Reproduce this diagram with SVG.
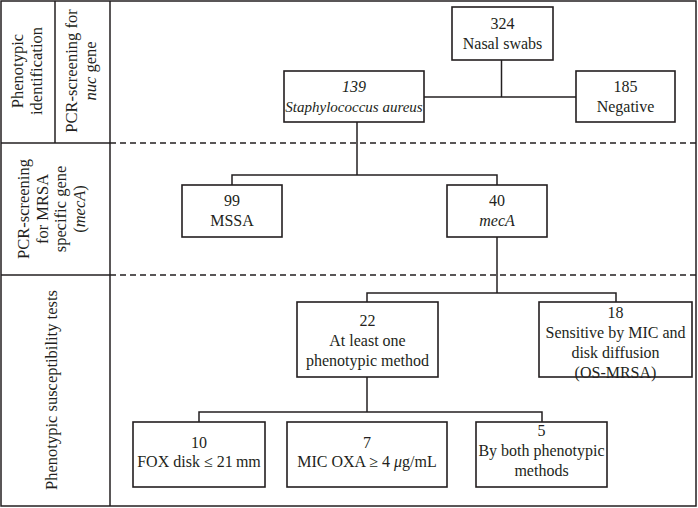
<svg xmlns="http://www.w3.org/2000/svg" width="698" height="508" viewBox="0 0 698 508">
<style>
.ln{stroke:#231f20;stroke-width:1.5;fill:none}
.dash{stroke:#231f20;stroke-width:1.5;fill:none;stroke-dasharray:6 4}
.box{fill:#fff;stroke:#231f20;stroke-width:1.6}
text{font-family:"Liberation Serif","Times New Roman",serif;fill:#231f20;font-size:16px}
.c{text-anchor:middle}
.lbl{font-size:16.5px;text-anchor:middle}
.i{font-style:italic}
</style>
<rect width="698" height="508" fill="#fff"/>
<g id="frame">
<rect class="ln" x="1" y="1" width="695" height="505"/>
<line class="ln" x1="110" y1="1" x2="110" y2="506"/>
<line class="ln" x1="55" y1="1" x2="55" y2="143"/>
<line class="ln" x1="1" y1="143" x2="110" y2="143"/>
<line class="ln" x1="1" y1="275" x2="110" y2="275"/>
<line class="dash" x1="110" y1="143" x2="696" y2="143"/>
<line class="dash" x1="110" y1="275" x2="696" y2="275"/>
</g>
<g id="row-labels">
<text class="lbl" transform="translate(0,71) rotate(-90)"><tspan x="0" y="23">Phenotypic</tspan><tspan x="0" y="42">identification</tspan></text>
<text class="lbl" transform="translate(0,71) rotate(-90)"><tspan x="0" y="77">PCR-screening for</tspan><tspan x="0" y="96"><tspan class="i">nuc</tspan> gene</tspan></text>
<text class="lbl" transform="translate(0,209) rotate(-90)"><tspan x="0" y="29">PCR-screening</tspan><tspan x="0" y="47.5">for MRSA</tspan><tspan x="0" y="66">specific gene</tspan><tspan x="0" y="84.5">(<tspan class="i">mecA</tspan>)</tspan></text>
<text class="lbl" transform="translate(0,390) rotate(-90)"><tspan x="0" y="57">Phenotypic susceptibility tests</tspan></text>
</g>
<g id="connectors">
<line class="ln" x1="501.5" y1="60" x2="501.5" y2="97"/>
<line class="ln" x1="424" y1="97" x2="576" y2="97"/>
<polyline class="ln" points="357,122 357,175"/>
<polyline class="ln" points="232,185 232,175 497,175 497,185"/>
<line class="ln" x1="497" y1="237" x2="497" y2="293"/>
<polyline class="ln" points="367,302 367,293 616,293 616,302"/>
<line class="ln" x1="367" y1="377" x2="367" y2="412"/>
<polyline class="ln" points="199,422 199,412 542,412 542,422"/>
</g>
<g id="n324"><rect class="box" x="452" y="7" width="101" height="53"/><text class="c" x="502.5" y="29">324</text><text class="c" x="502.5" y="49">Nasal swabs</text></g>
<g id="n139"><rect class="box" x="284" y="71" width="140" height="51"/><text class="c i" x="354" y="92">139</text><text class="c i" x="354" y="112" style="font-size:15px">Staphylococcus aureus</text></g>
<g id="n185"><rect class="box" x="576" y="71" width="99" height="51"/><text class="c" x="625.5" y="92">185</text><text class="c" x="625.5" y="112">Negative</text></g>
<g id="n99"><rect class="box" x="182" y="185" width="100" height="52"/><text class="c" x="232" y="206">99</text><text class="c" x="232" y="226">MSSA</text></g>
<g id="n40"><rect class="box" x="447" y="185" width="100" height="52"/><text class="c" x="497" y="206">40</text><text class="c i" x="497" y="226">mecA</text></g>
<g id="n22"><rect class="box" x="297" y="302" width="141" height="75"/><text class="c" x="367.5" y="326">22</text><text class="c" x="367.5" y="346">At least one</text><text class="c" x="367.5" y="366">phenotypic method</text></g>
<g id="n18"><rect class="box" x="539" y="302" width="153" height="75"/><text class="c" x="615.5" y="318">18</text><text class="c" x="615.5" y="338">Sensitive by MIC and</text><text class="c" x="615.5" y="358">disk diffusion</text><text class="c" x="615.5" y="378">(OS-MRSA)</text></g>
<g id="n10"><rect class="box" x="133" y="422" width="132" height="65"/><text class="c" x="199" y="448">10</text><text class="c" x="199" y="467">FOX disk ≤ 21&#8201;mm</text></g>
<g id="n7"><rect class="box" x="287" y="422" width="160" height="65"/><text class="c" x="367" y="448">7</text><text class="c" x="367" y="467">MIC OXA ≥ 4 <tspan class="i">μ</tspan>g/mL</text></g>
<g id="n5"><rect class="box" x="476" y="422" width="131" height="65"/><text class="c" x="541.5" y="436">5</text><text class="c" x="541.5" y="456">By both phenotypic</text><text class="c" x="541.5" y="476">methods</text></g>
</svg>
